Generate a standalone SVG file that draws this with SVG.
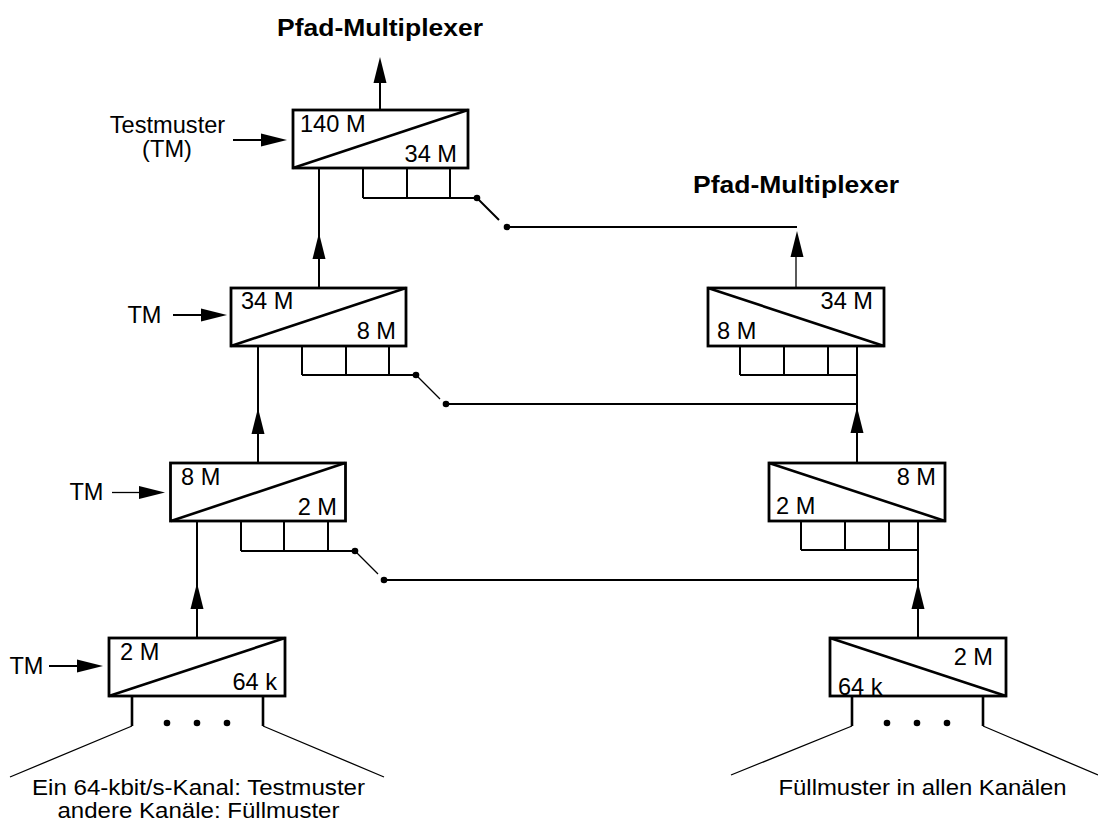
<svg xmlns="http://www.w3.org/2000/svg" width="1098" height="823" viewBox="0 0 1098 823">
<style>
text{font-family:"Liberation Sans",Arial,sans-serif;font-size:23.6px;fill:#000}
.b{font-weight:bold;font-size:23px}
.s{font-size:22.5px}
.m{text-anchor:middle}
.e{text-anchor:end}
rect{fill:#fff;stroke:#000;stroke-width:2.8}
.d{stroke:#000;stroke-width:2.6;fill:none}
.l{stroke:#000;stroke-width:2;fill:none}
.t{stroke:#000;stroke-width:1.3;fill:none}
.a{fill:#000;stroke:none}
</style>
<defs>
<path id="up" class="a" d="M0 0L6.5 26H-6.5Z"/>
<path id="rt" class="a" d="M0 0L-26 -6.5V6.5Z"/>
<circle id="dot" r="3.3" fill="#000"/>
</defs>
<g id="connectors">
<path class="l" d="M380 110V80"/><use href="#up" x="380" y="57"/>
<path class="l" d="M319 168V288"/><use href="#up" x="319" y="233"/>
<path class="l" d="M258 346V463"/><use href="#up" x="258" y="408"/>
<path class="l" d="M197 521V638"/><use href="#up" x="197" y="583"/>
<path class="l" d="M233 140H262"/><use href="#rt" x="287" y="140"/>
<path class="l" d="M173 315H202"/><use href="#rt" x="227" y="315"/>
<path class="t" d="M112 492.500H141"/><use href="#rt" x="165" y="492.500"/>
<path class="l" d="M49 666H78"/><use href="#rt" x="103" y="666"/>
<path class="l" d="M363 168V198M407 168V198M450 168V198M363 198H477L499 220M507 227H797"/>
<use href="#dot" x="477" y="198"/><use href="#dot" x="507" y="227"/>
<path class="l" d="M302 346V375M346 346V375M389 346V375M302 375H416"/>
<path class="t" d="M416 375L440 399"/>
<path class="l" d="M446 404H858"/>
<use href="#dot" x="416" y="375"/><use href="#dot" x="446" y="404"/>
<path class="l" d="M241 521V551M284 521V551M328 521V551M241 551H355"/>
<path class="t" d="M355 551L378 574"/>
<path class="l" d="M384 580H918"/>
<use href="#dot" x="355" y="551"/><use href="#dot" x="384" y="580"/>
<path class="t" d="M796 288V250"/><use href="#up" x="797" y="231"/>
<path class="l" d="M740 346V375M784 346V375M828 346V375M740 375H857M857 346V404M857 404V463"/><use href="#up" x="857" y="407"/>
<path class="l" d="M801 521V550M845 521V550M889 521V550M801 550H918M918 521V579M918 579V638"/><use href="#up" x="918" y="583"/>
<path class="d" d="M132 696V726M263 696V726M852 696V726M983 696V726"/>
<path class="t" d="M132 726L10 777M263 726L384 777M852 726L731 775M983 726L1098 775"/>
</g>
<g id="n1"><rect x="293" y="110" width="175" height="58"/><path class="d" d="M293 168L468 110"/><text x="300" y="132">140 M</text><text x="457" y="162" class="e">34 M</text></g>
<g id="n2"><rect x="231" y="288" width="175" height="58"/><path class="d" d="M231 346L406 288"/><text x="241" y="309">34 M</text><text x="396" y="339" class="e">8 M</text></g>
<g id="n3"><rect x="170.500" y="463" width="175" height="58"/><path class="d" d="M171 521L345 463"/><text x="181" y="485">8 M</text><text x="337" y="515" class="e">2 M</text></g>
<g id="n4"><rect x="109" y="638" width="176" height="58"/><path class="d" d="M109 696L285 638"/><text x="120" y="660">2 M</text><text x="277" y="690" class="e">64 k</text></g>
<g id="n5"><rect x="708" y="288" width="176" height="58"/><path class="d" d="M708 288L884 346"/><text x="873" y="309" class="e">34 M</text><text x="717" y="339">8 M</text></g>
<g id="n6"><rect x="769" y="463" width="176" height="58"/><path class="d" d="M769 463L945 521"/><text x="936" y="485" class="e">8 M</text><text x="776" y="514">2 M</text></g>
<g id="n7"><rect x="830" y="638" width="176" height="58"/><path class="d" d="M830 638L1006 696"/><text x="993" y="665" class="e">2 M</text><text x="838" y="695">64 k</text></g>
<g id="dots-left" fill="#000"><circle cx="167" cy="723" r="3.300"/><circle cx="197" cy="723" r="3.300"/><circle cx="227" cy="723" r="3.300"/></g>
<g id="dots-right" fill="#000"><circle cx="887" cy="723" r="3.300"/><circle cx="917" cy="723" r="3.300"/><circle cx="947" cy="723" r="3.300"/></g>
<g id="labels">
<text x="277" y="36" class="b" textLength="206" lengthAdjust="spacingAndGlyphs">Pfad-Multiplexer</text>
<text x="693" y="193" class="b" textLength="206" lengthAdjust="spacingAndGlyphs">Pfad-Multiplexer</text>
<text x="167.500" y="133" class="m">Testmuster</text>
<text x="167" y="157" class="m">(TM)</text>
<text x="144.500" y="323" class="m">TM</text>
<text x="86.500" y="500" class="m">TM</text>
<text x="26.500" y="674" class="m">TM</text>
<text x="198.500" y="795" class="m s" textLength="333" lengthAdjust="spacingAndGlyphs">Ein 64-kbit/s-Kanal: Testmuster</text>
<text x="198.500" y="818" class="m s" textLength="282" lengthAdjust="spacingAndGlyphs">andere Kanäle: Füllmuster</text>
<text x="922.500" y="795" class="m s" textLength="288" lengthAdjust="spacingAndGlyphs">Füllmuster in allen Kanälen</text>
</g>
</svg>
